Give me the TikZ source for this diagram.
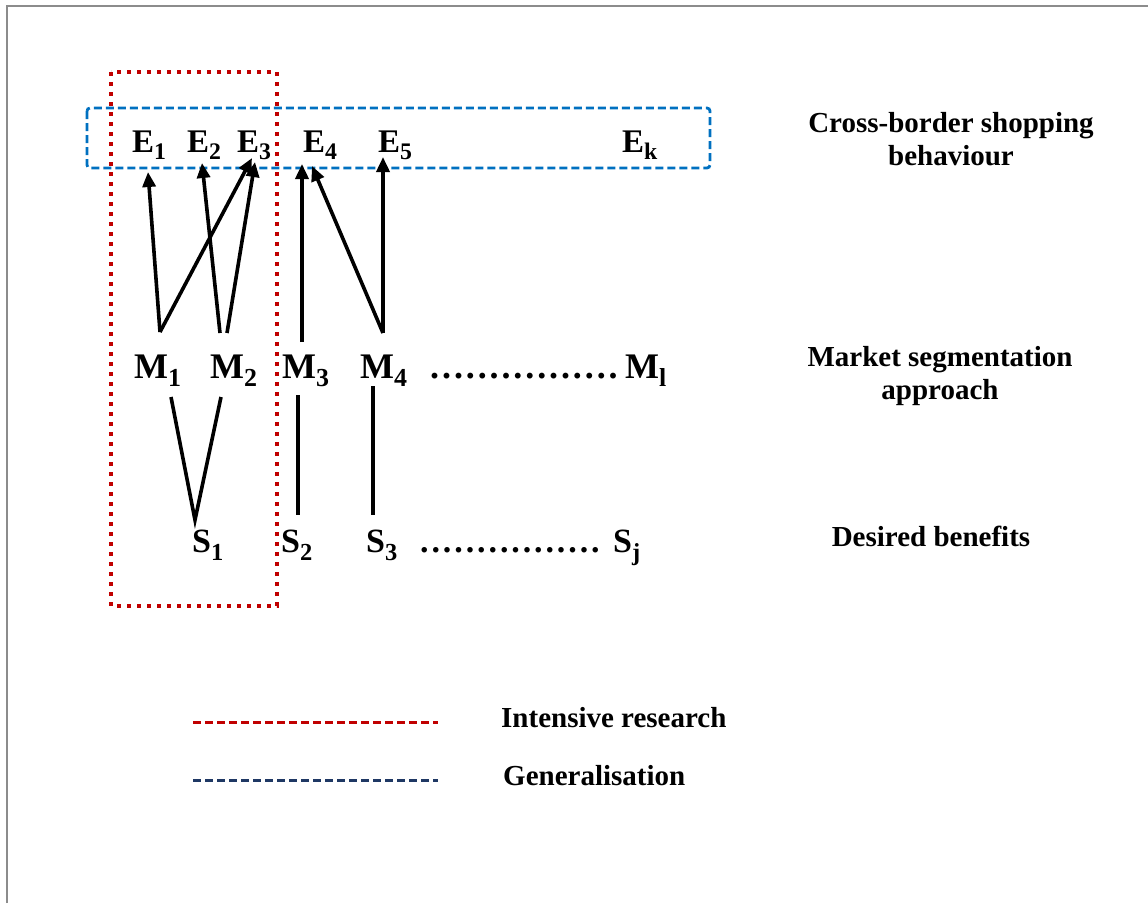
\documentclass[tikz,border=0pt]{standalone}
\usepackage{fontspec}
\setmainfont{Liberation Serif}
\usetikzlibrary{arrows.meta}
\definecolor{boxred}{HTML}{C00000}
\definecolor{boxblue}{HTML}{0070C0}
\definecolor{navy}{HTML}{1F3864}
\definecolor{framegray}{HTML}{8C8C8C}
\newcommand{\sbx}[1]{\raisebox{-0.24em}{\scalebox{0.72}{#1}}}
\newcommand{\dk}{\kern2.9pt}
\newcommand{\dotrun}{.\dk.\dk.\dk.\dk.\dk.\dk.\dk.\dk.\dk.\dk.\dk.\dk.\dk.\dk.\dk.}
\begin{document}
\begin{tikzpicture}[x=1pt,y=-1pt,
  elbl/.style={font=\bfseries\fontsize{33}{36}\selectfont, anchor=base west, inner sep=0pt},
  mlbl/.style={font=\bfseries\fontsize{36}{40}\selectfont, anchor=base west, inner sep=0pt},
  slbl/.style={font=\bfseries\fontsize{34}{38}\selectfont, anchor=base west, inner sep=0pt},
  side/.style={font=\bfseries\fontsize{29}{33}\selectfont, align=center, inner sep=0pt},
  arr/.style={line width=3.6pt, -{Triangle[length=15pt,width=13pt]}},
  link/.style={line width=3.6pt},
  redbox/.style={draw=boxred, line width=4pt, dash pattern=on 4pt off 6pt},
  bluebox/.style={draw=boxblue, line width=2.8pt, dash pattern=on 8pt off 4pt, rounded corners=3pt},
  legred/.style={draw=boxred, line width=3pt, dash pattern=on 8pt off 4pt},
  legblue/.style={draw=navy, line width=3pt, dash pattern=on 8pt off 4pt}]
\useasboundingbox (0,0) rectangle (1148,903);
% frame
\draw[framegray, line width=2pt] (7,903) -- (7,6) -- (1148,6);
% boxes
\draw[bluebox] (87,108) rectangle (710,168);
\draw[redbox] (111,72) rectangle (277,606);
% E row
\node[elbl] (E1) at (132,152) {E\sbx{1}};
\node[elbl] (E2) at (187,152) {E\sbx{2}};
\node[elbl] (E3) at (237,152) {E\sbx{3}};
\node[elbl] (E4) at (303,152) {E\sbx{4}};
\node[elbl] (E5) at (378,152) {E\sbx{5}};
\node[elbl] (Ek) at (622,152) {E\sbx{k}};
% M row
\node[mlbl] (M1) at (134,378) {M\sbx{1}};
\node[mlbl] (M2) at (210,378) {M\sbx{2}};
\node[mlbl] (M3) at (282,378) {M\sbx{3}};
\node[mlbl] (M4) at (360,378) {M\sbx{4}};
\node[mlbl] (Mdots) at (430,378) {\dotrun};
\node[mlbl] (Ml) at (625,378) {M\sbx{l}};
% S row
\node[slbl] (S1) at (192,552) {S\sbx{1}};
\node[slbl] (S2) at (281,552) {S\sbx{2}};
\node[slbl] (S3) at (366,552) {S\sbx{3}};
\node[slbl] (Sdots) at (420,552) {\dotrun};
\node[slbl] (Sj) at (613,552) {S\sbx{j}};
% side labels
\node[side, anchor=north] (lblE) at (951,112) {Cross-border shopping\\behaviour};
\node[side, anchor=north] (lblM) at (940,346) {Market segmentation\\approach};
\node[side, anchor=base] (lblS) at (931,546) {Desired benefits};
% connector points
\coordinate (m1t) at (160,332);
\coordinate (m2ta) at (220,333);
\coordinate (m2tb) at (227,333);
\coordinate (m3t) at (302,342);
\coordinate (m4t) at (383,333);
\coordinate (e1b) at (148,172);
\coordinate (e2b) at (202,163);
\coordinate (e3b) at (252,158);
\coordinate (e3c) at (255,162);
\coordinate (e4b) at (302,164);
\coordinate (e4c) at (312,166);
\coordinate (e5b) at (383,157);
\coordinate (m1b) at (171,397);
\coordinate (m2b) at (221,397);
\coordinate (s1t) at (195,520);
\coordinate (m3b) at (298,395);
\coordinate (s2t) at (298,515);
\coordinate (m4b) at (373,386);
\coordinate (s3t) at (373,515);
% arrows up
\draw[arr] (m1t) -- (e1b);
\draw[arr] (m1t) -- (e3b);
\draw[arr] (m2ta) -- (e2b);
\draw[arr] (m2tb) -- (e3c);
\draw[arr] (m3t) -- (e4b);
\draw[arr] (m4t) -- (e4c);
\draw[arr] (m4t) -- (e5b);
% links down
\draw[link, line join=miter] (m1b) -- (s1t) -- (m2b);
\draw[link] (m3b) -- (s2t);
\draw[link] (m4b) -- (s3t);
% legend
\coordinate (lr1) at (193,722);
\coordinate (lr2) at (438,722);
\coordinate (lb1) at (193,780);
\coordinate (lb2) at (438,780);
\draw[legred] (lr1) -- (lr2);
\draw[legblue] (lb1) -- (lb2);
\node[side, anchor=base west] (legR) at (501,727) {Intensive research};
\node[side, anchor=base west] (legB) at (503,785) {Generalisation};
\end{tikzpicture}
\end{document}
